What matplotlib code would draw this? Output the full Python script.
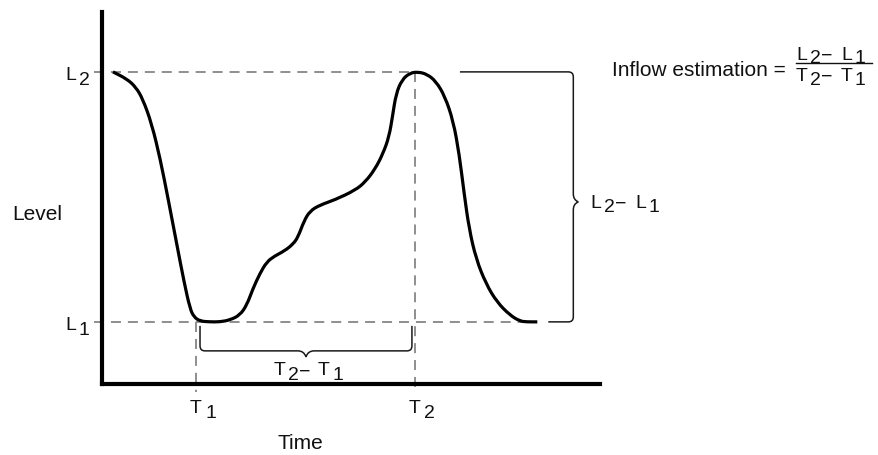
import numpy as np
import matplotlib
matplotlib.use("Agg")
import matplotlib.pyplot as plt
from matplotlib.path import Path
from matplotlib.patches import PathPatch
from matplotlib.transforms import offset_copy, blended_transform_factory, Affine2D

plt.rcParams['font.family'] = ['Liberation Sans', 'DejaVu Sans']
plt.rcParams['lines.scale_dashes'] = False

# ---------------- data ----------------
time_pts = [2.1, 4.9, 6.7, 8.1, 9.9, 11.6, 13.2, 15.0, 16.4, 17.6, 18.4, 19.6, 21.6, 23.6,
            25.6, 27.6, 29.0, 30.2, 31.6, 33.0, 34.6, 36.6, 38.3, 39.3, 40.5, 41.7, 43.7,
            46.7, 50.8, 52.8, 54.8, 56.4, 57.6, 58.3, 59.0, 60.2, 61.8, 63.4, 65.2, 67.0,
            68.8, 70.5, 71.7, 72.7, 73.7, 75.1, 77.1, 79.3, 81.9, 83.9, 85.3, 87.4]
level_pts = [83.9, 82.0, 79.8, 76.6, 69.9, 60.5, 49.7, 37.1, 27.4, 20.2, 18.0, 16.9, 16.7, 16.7,
             17.2, 18.5, 21.2, 25.5, 29.6, 32.8, 34.4, 35.8, 37.6, 39.5, 43.8, 46.5, 48.1,
             49.5, 52.1, 54.3, 57.8, 62.0, 66.5, 72.0, 78.0, 81.8, 83.6, 83.9, 83.3, 81.4,
             77.4, 70.7, 61.8, 51.1, 41.7, 33.6, 26.9, 22.0, 18.5, 16.9, 16.7, 16.7]
L1, L2 = 16.7, 83.9
T1, T2 = 18.8, 62.8
level_labels = [("L", "2"), ("L", "1")]
time_labels = [("T", "1"), ("T", "2")]
x_title, y_title = "Time", "Level"
formula_text = "Inflow estimation ="

# ---------------- figure ----------------
W, H = 879, 456
fig = plt.figure(figsize=(W / 100, H / 100), dpi=100)
ax = fig.add_axes([102.5 / W, 1 - 385 / H, 497.5 / W, 372 / H])
ax.set_xlim(0, 100)
ax.set_ylim(0, 100)
for s in ("top", "right"):
    ax.spines[s].set_visible(False)
for s in ("left", "bottom"):
    ax.spines[s].set_linewidth(3.0)
    ax.spines[s].set_color("black")
ax.set_xticks([])
ax.set_yticks([])

PXX = 100 / 497.5   # data units per pixel (x)
PXY = 100 / 372     # data units per pixel (y)

grey = "#8e8e8e"
dash = dict(color=grey, lw=1.4, dashes=(7.2, 5.0), clip_on=False, zorder=2)
ax.plot([-8.5 * PXX, T2], [L2, L2], **dash)
ax.plot([-8.5 * PXX, time_pts[-1]], [L1, L1], **dash)
ax.plot([T1, T1], [L1, -8 * PXY], **dash)
ax.plot([T2, T2], [L2, -8 * PXY], **dash)

# smooth curve through the read points (quadratic Bezier, points as controls)
pts = np.column_stack([time_pts, level_pts])
verts = [pts[0], (pts[0] + pts[1]) / 2]
codes = [Path.MOVETO, Path.LINETO]
for i in range(1, len(pts) - 1):
    verts += [pts[i], (pts[i] + pts[i + 1]) / 2]
    codes += [Path.CURVE3, Path.CURVE3]
verts.append(pts[-1])
codes.append(Path.LINETO)
ax.add_patch(PathPatch(Path(verts, codes), fc="none", ec="black", lw=2.3,
                       capstyle="butt", joinstyle="round", zorder=3, clip_on=False))

# ---------------- braces ----------------
bc = "#1a1a1a"
xa, xb = T1 + 4 * PXX, T2 - 3 * PXX
ytop, ybar, ytip = L1 - 4 * PXY, L1 - 29 * PXY, L1 - 35 * PXY
r = 5
xm = (xa + xb) / 2
verts = [(xa, ytop), (xa, ybar + r * PXY), (xa, ybar), (xa + r * PXX, ybar),
         (xm - 8 * PXX, ybar), (xm - 2 * PXX, ybar), (xm, ytip),
         (xm + 2 * PXX, ybar), (xm + 8 * PXX, ybar),
         (xb - r * PXX, ybar), (xb, ybar), (xb, ybar + r * PXY), (xb, ytop)]
bcodes = [Path.MOVETO, Path.LINETO, Path.CURVE3, Path.CURVE3,
          Path.LINETO, Path.CURVE3, Path.CURVE3, Path.CURVE3, Path.CURVE3,
          Path.LINETO, Path.CURVE3, Path.CURVE3, Path.LINETO]
ax.add_patch(PathPatch(Path(verts, bcodes), fc="none", ec=bc, lw=1.1, clip_on=False))

x0t, x0b = T2 + 45 * PXX, time_pts[-1] + 11 * PXX
xv, xt = x0b + 25 * PXX, x0b + 30 * PXX
ym = (L1 + L2) / 2 - 5 * PXY
verts = [(x0t, L2), (xv - r * PXX, L2), (xv, L2), (xv, L2 - r * PXY),
         (xv, ym + 8 * PXY), (xv, ym + 2 * PXY), (xt, ym),
         (xv, ym - 2 * PXY), (xv, ym - 8 * PXY),
         (xv, L1 + r * PXY), (xv, L1), (xv - r * PXX, L1), (x0b, L1)]
ax.add_patch(PathPatch(Path(verts, bcodes), fc="none", ec=bc, lw=1.1, clip_on=False))

# ---------------- text ----------------
pix = Affine2D().scale(1 / W, -1 / H).translate(0, 1) + fig.transFigure


def rich(x, y, parts, trans, fs):
    for s, dx, dy in parts:
        tr = offset_copy(trans, fig=fig, x=dx, y=-dy, units="dots")
        ax.text(x, y, s, transform=tr, fontsize=fs, ha="left", va="baseline",
                clip_on=False, color="#111111")


fs_lab = 14
ytr = blended_transform_factory(pix, ax.transData)
for (m, s), lv in zip(level_labels, [L2, L1]):
    rich(65, lv, [(m, 0, 7), (s, 14, 12)], ytr, fs_lab)

xtr = blended_transform_factory(ax.transData, pix)
for (m, s), tv in zip(time_labels, [T1, T2]):
    rich(tv, 413, [(m, -6, 0), (s, 9, 5)], xtr, fs_lab)

# T2 - T1 under brace
rich(274, 375, [("T", 0, 0), ("2", 14, 5), ("\u2212", 25, 2), ("T", 44, 0), ("1", 59, 5)], pix, fs_lab)
# L2 - L1 next to brace
rich(590, 208, [("L", 0, 0), ("2", 14, 4), ("\u2212", 25, 1), ("L", 45, 0), ("1", 59, 4)], pix, fs_lab)

# formula
ax.text(612 / W, 1 - 76 / H, formula_text, transform=fig.transFigure, fontsize=15,
        ha="left", va="baseline", color="#111111")
rich(796, 60, [("L", 0, 0), ("2", 14, 3), ("\u2212", 25, 1), ("L", 45, 0), ("1", 59, 3)], pix, fs_lab)
rich(796, 81, [("T", 0, 0), ("2", 14, 4), ("\u2212", 25, 1), ("T", 45, 0), ("1", 59, 4)], pix, fs_lab)
fig.add_artist(plt.Line2D([796 / W, 872 / W], [1 - 64 / H, 1 - 64 / H], color="#111111", lw=1.0))

ax.set_xlabel(x_title, fontsize=15, color="#111111", va="center", ha="center")
ax.xaxis.set_label_coords((300 - 102.5) / 497.5, (385 - 444) / 372)
ax.set_ylabel(y_title, fontsize=15, color="#111111", rotation=0, va="center", ha="center")
ax.yaxis.set_label_coords((37 - 102.5) / 497.5, (385 - 215) / 372)

fig.savefig("out.png", dpi=100)
